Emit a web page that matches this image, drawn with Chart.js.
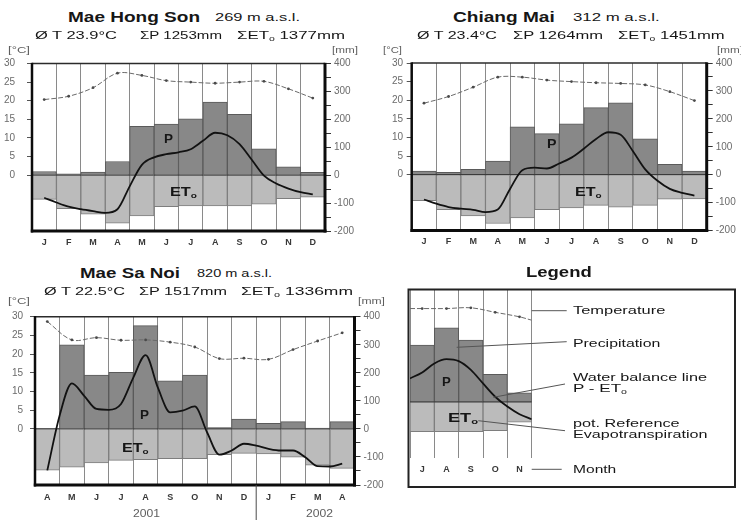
<!DOCTYPE html>
<html lang="en">
<head>
<meta charset="utf-8">
<title>Climate diagrams – Mae Hong Son, Chiang Mai, Mae Sa Noi</title>
<script src="https://cdn.jsdelivr.net/npm/chart.js@4.4.1/dist/chart.umd.min.js"></script>
<style>
  html, body { margin: 0; padding: 0; background: #fff; }
  #page { position: relative; width: 741px; height: 520px; overflow: hidden; background: #fff; }
  #page canvas { position: absolute; }
  .t { position: absolute; white-space: nowrap; line-height: 1; transform-origin: 0 50%;
       font-family: 'Liberation Sans', Arial, Helvetica, sans-serif; color: #161616; }
  .s { font-size: 0.62em; vertical-align: -0.3em; line-height: 0; }
</style>
</head>
<body>
<div id="page">
  <canvas id="mhs" width="370" height="215" style="left:0;top:40px"></canvas>
  <canvas id="cm" width="371" height="215" style="left:370px;top:40px"></canvas>
  <canvas id="msn" width="400" height="225" style="left:0;top:295px"></canvas>
  <canvas id="key" width="341" height="210" style="left:400px;top:285px"></canvas>
</div>
<script>
// ---------- data ----------
const months12 = ['J', 'F', 'M', 'A', 'M', 'J', 'J', 'A', 'S', 'O', 'N', 'D'];
const msnMonths = ['A', 'M', 'J', 'J', 'A', 'S', 'O', 'N', 'D', 'J', 'F', 'M', 'A'];
const keyMonths = ['J', 'A', 'S', 'O', 'N'];

// Mae Hong Son, monthly means (temperature °C, precipitation & ETo mm)
const mhsTemp   = [20.3, 21.2, 23.5, 27.4, 26.8, 25.4, 25.0, 24.7, 25.0, 25.2, 23.2, 20.7];
const mhsPrecip = [13, 5, 11, 49, 175, 183, 202, 262, 218, 94, 30, 10];
const mhsEvap   = [87, 120, 140, 172, 146, 113, 110, 110, 110, 104, 84, 79];
// water balance P - ETo, sampled every half month from January to December
const mhsBalance = [-81, -98, -113, -122, -129, -135, -122, -40, 37, 64, 75, 82,
                    93, 123, 152, 143, 111, 55, -2, -30, -48, -61, -69];

// Chiang Mai
const cmTemp   = [19.2, 21.0, 23.5, 26.2, 26.2, 25.4, 25.0, 24.7, 24.5, 24.1, 22.3, 19.9];
const cmPrecip = [13, 8, 19, 49, 171, 147, 182, 240, 257, 128, 37, 13];
const cmEvap   = [93, 125, 148, 175, 155, 125, 119, 110, 116, 110, 88, 87];
const cmBalance = [-89, -104, -116, -122, -126, -134, -125, -51, 16, 25, 22, 40,
                   61, 93, 128, 152, 143, 84, 19, -22, -51, -65, -75];

// Mae Sa Noi, April 2001 – April 2002
const msnTemp   = [28.7, 23.8, 24.4, 23.7, 23.8, 23.2, 21.9, 18.8, 18.9, 18.6, 21.2, 23.5, 25.7];
const msnPrecip = [2, 300, 192, 202, 368, 171, 192, 5, 35, 20, 26, 3, 26];
const msnEvap   = [147, 136, 121, 112, 110, 106, 106, 92, 87, 89, 101, 129, 141];
const msnBalance = [-148, 47, 162, 118, 71, 68, 89, 183, 263, 147, 59, 65, 80,
                    -12, -92, -77, -53, -60, -71, -77, -77, -101, -133, -134, -124];

// Legend sample (July – November)
const keyPrecip = [201, 262, 219, 97, 32];
const keyEvap   = [106, 106, 106, 102, 72];
const keyTempAt = [-0.5, 0, 1, 2, 3, 4, 4.5];
const keyTemp   = [24.8, 24.8, 24.8, 25.0, 23.8, 22.6, 21.7];
const keyBalAt  = [-0.5, 0, 0.5, 1, 1.5, 2, 2.5, 3, 3.5, 4, 4.5];
const keyBalance = [83, 104, 136, 151, 144, 113, 65, 18, -17, -44, -62];

// month positions (index) and half-month positions
const steps = n => Array.from({ length: n }, (_, i) => i);
const halfSteps = n => Array.from({ length: 2 * n - 1 }, (_, i) => i / 2);

// ---------- styling ----------
const FONT = "'Liberation Sans', Arial, Helvetica, sans-serif";
const P_FILL = '#888888', P_EDGE = '#5a5a5a';
const ET_FILL = '#bbbbbb', ET_EDGE = '#7e7e7e';
const GRID = '#8a8a8a';

function seg(ctx, x0, y0, x1, y1, w, c) {
  ctx.save();
  ctx.strokeStyle = c; ctx.lineWidth = w; ctx.setLineDash([]);
  ctx.beginPath(); ctx.moveTo(x0, y0); ctx.lineTo(x1, y1); ctx.stroke();
  ctx.restore();
}

// zero line, plot frame, year divider, legend box and leader lines
const decor = {
  id: 'decor',
  afterDatasetDraw(chart, args) {
    if (args.index !== 0) return;           // right after the precipitation bars
    const a = chart.chartArea;
    const y0 = chart.scales.y1.getPixelForValue(0);
    seg(chart.ctx, a.left, y0, a.right, y0, 1.2, '#3b3b3b');
  },
  afterDraw(chart, args, o) {
    const { ctx, chartArea: a } = chart;
    if (o.frame) {
      seg(ctx, a.left, a.top, a.right, a.top, 1.5, '#2b2b2b');
      seg(ctx, a.left, a.top - 0.7, a.left, a.bottom + 1.5, 2.5, '#0c0c0c');
      seg(ctx, a.right, a.top - 0.7, a.right, a.bottom + 1.5, 3, '#0c0c0c');
      seg(ctx, a.left - 1.2, a.bottom, a.right + 1.5, a.bottom, 3, '#0c0c0c');
    }
    if (o.divider != null) {
      const x = chart.scales.xl.getPixelForValue(o.divider);
      seg(ctx, x, a.bottom, x, chart.height, 1, '#4a4a4a');
    }
    if (o.box) {
      ctx.save(); ctx.strokeStyle = '#222'; ctx.lineWidth = 2;
      ctx.strokeRect(o.box[0], o.box[1], o.box[2], o.box[3]); ctx.restore();
    }
    (o.leaders || []).forEach(l => seg(ctx, l[0], l[1], l[2], l[3], 1, '#555'));
  }
};

function climateChart(id, d, g) {
  const n = d.months.length;
  const tickFont = { family: FONT, size: 10 };
  const barBase = { yAxisID: 'y1', borderWidth: 1, grouped: false, barPercentage: 1, categoryPercentage: 1 };
  return new Chart(document.getElementById(id), {
    type: 'bar',
    data: {
      labels: d.months,
      datasets: [
        Object.assign({ label: 'Precipitation', data: d.precip, backgroundColor: P_FILL, borderColor: P_EDGE, order: 2 }, barBase),
        Object.assign({ label: 'ETo', data: d.evap.map(v => -v), backgroundColor: ET_FILL, borderColor: ET_EDGE, order: 3 }, barBase),
        {
          type: 'line', label: 'Temperature', xAxisID: 'xl', yAxisID: 'y',
          data: d.tempAt.map((x, i) => ({ x, y: d.temp[i] })),
          borderColor: '#6a6a6a', borderWidth: 1, borderDash: [5, 2], tension: 0.35,
          pointRadius: c => (c.raw && Number.isInteger(c.raw.x)) ? 1.4 : 0,
          pointBackgroundColor: '#4a4a4a', pointBorderWidth: 0, order: 1
        },
        {
          type: 'line', label: 'P - ETo', xAxisID: 'xl', yAxisID: 'y1',
          data: d.balAt.map((x, i) => ({ x, y: d.bal[i] })),
          borderColor: '#121212', borderWidth: 1.8, pointRadius: 0,
          cubicInterpolationMode: 'monotone', order: 0
        }
      ]
    },
    options: {
      responsive: false, animation: false, events: [],
      layout: { padding: g.pad },
      plugins: {
        legend: { display: false }, tooltip: { enabled: false },
        decor: { frame: g.frame, divider: g.divider, box: g.box, leaders: g.leaders }
      },
      scales: {
        x: {
          type: 'category', offset: true,
          grid: { display: true, offset: true, color: GRID, lineWidth: 1, drawTicks: false },
          border: { display: false },
          ticks: { font: { family: FONT, size: 9, weight: 'bold' }, color: '#383838', padding: g.xPad, maxRotation: 0, autoSkip: false },
          afterFit: s => { s.height = g.xH; }
        },
        xl: { type: 'linear', display: false, offset: false, grace: 0, bounds: 'ticks', min: -0.5, max: n - 0.5 },
        y: {
          position: 'left', display: g.axes, min: -15, max: 30,
          ticks: { stepSize: 5, autoSkip: false, font: tickFont, color: '#6b6b6b', padding: g.lPad,
                   callback: v => v >= 0 ? String(v) : '' },
          grid: { drawOnChartArea: false, tickLength: 5,
                  tickColor: c => (c.tick && c.tick.value < 0) ? 'rgba(0,0,0,0)' : '#555' },
          border: { display: false },
          afterFit: s => { s.width = g.lW; }
        },
        y1: {
          position: 'right', display: g.axes, min: -200, max: 400,
          ticks: { stepSize: 50, autoSkip: false, font: tickFont, color: '#6b6b6b', padding: 3,
                   callback: v => v % 100 === 0 ? String(v) : '' },
          grid: { drawOnChartArea: false, tickLength: 6, tickColor: '#333' },
          border: { display: false },
          afterFit: s => { s.width = g.rW; }
        }
      }
    },
    plugins: [decor]
  });
}

climateChart('mhs',
  { months: months12, precip: mhsPrecip, evap: mhsEvap, temp: mhsTemp, tempAt: steps(12), bal: mhsBalance, balAt: halfSteps(12) },
  { pad: { top: 23.5, left: 0, right: 0, bottom: 0 }, lW: 32, rW: 45, xH: 24, lPad: 12, xPad: 6, axes: true, frame: true });

climateChart('cm',
  { months: months12, precip: cmPrecip, evap: cmEvap, temp: cmTemp, tempAt: steps(12), bal: cmBalance, balAt: halfSteps(12) },
  { pad: { top: 23, left: 0, right: 0, bottom: 0 }, lW: 41.7, rW: 34.3, xH: 24.5, lPad: 3.7, xPad: 6, axes: true, frame: true });

climateChart('msn',
  { months: msnMonths, precip: msnPrecip, evap: msnEvap, temp: msnTemp, tempAt: steps(13), bal: msnBalance, balAt: halfSteps(13) },
  { pad: { top: 21.7, left: 0, right: 0, bottom: 0 }, lW: 35, rW: 45.5, xH: 35, lPad: 7, xPad: 7, axes: true, frame: true, divider: 8.5 });

// legend panel: canvas origin is at page (400, 285)
const KEY_X = 400, KEY_Y = 285;
const keyLeaders = [
  [531.7, 310.7, 566.7, 310.7],   // temperature
  [456.7, 347.3, 566.7, 341.7],   // precipitation
  [493.3, 397.3, 565.0, 384.0],   // water balance line
  [478.3, 420.7, 565.0, 430.7],   // reference evapotranspiration
  [531.7, 469.3, 561.7, 469.3]    // month
].map(l => [l[0] - KEY_X, l[1] - KEY_Y, l[2] - KEY_X, l[3] - KEY_Y]);

climateChart('key',
  { months: keyMonths, precip: keyPrecip, evap: keyEvap, temp: keyTemp, tempAt: keyTempAt, bal: keyBalance, balAt: keyBalAt },
  { pad: { top: 4, left: 10, right: 209.3, bottom: 16.8 }, lW: 0, rW: 0, xH: 20, lPad: 0, xPad: 6, axes: false, frame: false,
    box: [408.5 - KEY_X, 289.5 - KEY_Y, 326.5, 197.5], leaders: keyLeaders });

// ---------- text ----------
const page = document.getElementById('page');
const GRAY = '#5e5e5e';
const ETo = 'ET<span class="s">o</span>';
function put(html, x0, x1, yc, size, bold, color) {
  const el = document.createElement('div');
  el.className = 't';
  el.innerHTML = html;
  el.style.left = x0 + 'px';
  el.style.top = (yc - 0.49 * size) + 'px';
  el.style.fontSize = size + 'px';
  if (bold) el.style.fontWeight = 'bold';
  if (color) el.style.color = color;
  page.appendChild(el);
  if (x1 != null) {
    const w = el.getBoundingClientRect().width;
    el.style.transform = 'scaleX(' + ((x1 - x0) / w).toFixed(3) + ')';
  }
}

// Mae Hong Son
put('Mae Hong Son', 68, 200, 16.7, 14, true);
put('269 m a.s.l.', 215, 300, 16.9, 11);
put('Ø T 23.9°C', 35, 117, 35, 11);
put('ΣP 1253mm', 140, 222, 35, 11);
put('Σ' + ETo + ' 1377mm', 237, 345, 35, 11);
put('[°C]', 8, 30, 50, 9.5, false, GRAY);
put('[mm]', 332, 358, 50, 9.5, false, GRAY);
put('P', 164, 173, 139.5, 12.5, true);
put(ETo, 170, 197, 191.7, 12, true);

// Chiang Mai
put('Chiang Mai', 453.3, 555, 16.7, 14, true);
put('312 m a.s.l.', 573.3, 660, 16.9, 11);
put('Ø T 23.4°C', 416.7, 496.7, 35, 11);
put('ΣP 1264mm', 513.3, 603.3, 35, 11);
put('Σ' + ETo + ' 1451mm', 618.3, 725, 35, 11);
put('[°C]', 383, 402, 50, 9.5, false, GRAY);
put('[mm]', 717, 743, 50, 9.5, false, GRAY);
put('P', 547, 556.5, 144, 12.5, true);
put(ETo, 575, 601.7, 191.7, 12, true);

// Mae Sa Noi
put('Mae Sa Noi', 80, 180, 273.3, 14, true);
put('820 m a.s.l.', 197, 272, 273.5, 11);
put('Ø T 22.5°C', 44, 125, 291.5, 11);
put('ΣP 1517mm', 139, 227, 291.5, 11);
put('Σ' + ETo + ' 1336mm', 241, 353, 291.5, 11);
put('[°C]', 8, 30, 301, 9.5, false, GRAY);
put('[mm]', 358, 385, 301, 9.5, false, GRAY);
put('P', 140, 149, 415, 12.5, true);
put(ETo, 121.7, 148.3, 448, 12, true);
put('2001', 133, 160, 514, 10, false, GRAY);
put('2002', 306, 333, 514, 10, false, GRAY);

// Legend
put('Legend', 526, 591.7, 271.7, 14, true);
put('Temperature', 572.7, 665, 310.7, 11.5);
put('Precipitation', 572.7, 660, 343.3, 11.5);
put('Water balance line', 572.7, 706.7, 377.3, 11.5);
put('P - ' + ETo, 572.7, 626.7, 388.3, 11.5);
put('pot. Reference', 572.7, 679.3, 423.3, 11.5);
put('Evapotranspiration', 572.7, 707.3, 434.3, 11.5);
put('Month', 572.7, 616, 469.3, 11.5);
put('P', 441.7, 450.5, 381.7, 12.5, true);
put(ETo, 448.3, 478.3, 417.5, 12, true);
</script>
</body>
</html>
